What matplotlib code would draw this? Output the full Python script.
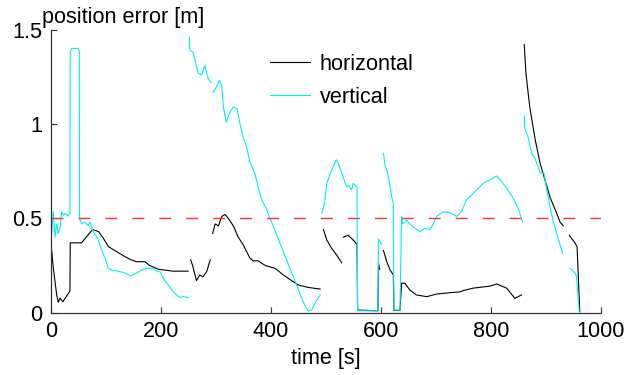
import numpy as np
import matplotlib
matplotlib.use("Agg")
import matplotlib.pyplot as plt

nan = np.nan

# horizontal error, segments split by nan
horiz_t = [0, 1.8, 4.7, 10.9, 13.8, 17, 22, 35, 35.5, 56, 76, 87, 95.7, 105, 120, 135, 144,
           156, 171.5, 180, 195.8, 223, 250, nan,
           254.5, 258, 265, 271, 277, 284, 290, nan,
           294.5, 299, 305, 311, 317, 323, 332, 341, 350, 362, 368, 377, 390, 408, 423, 438,
           450, 468, 490, nan,
           496, 502, 511, 520, 529, nan,
           532, 541, 553, 557, 558, 595, 596, 598, nan,
           605, 611, 617, 623, 624, 635, 638, 644, 653, 665, 684, 702, 726, 744, 750, 768,
           799, 811, 829, 844, 856, nan,
           861, 864, 871, 881, 890, 899, 908, 920, 926, 932, nan,
           943, 953, 957, 962]
horiz_err = [0.32, 0.33, 0.237, 0.094, 0.055, 0.078, 0.058, 0.115, 0.37, 0.37, 0.44, 0.43, 0.394,
             0.35, 0.323, 0.297, 0.283, 0.27, 0.27, 0.25, 0.23, 0.22, 0.22, nan,
             0.28, 0.25, 0.17, 0.20, 0.19, 0.22, 0.28, nan,
             0.42, 0.47, 0.46, 0.51, 0.52, 0.50, 0.46, 0.40, 0.36, 0.29, 0.275, 0.275, 0.25,
             0.235, 0.20, 0.17, 0.147, 0.134, 0.125, nan,
             0.44, 0.385, 0.34, 0.305, 0.265, nan,
             0.40, 0.41, 0.376, 0.36, 0.014, 0.01, 0.26, 0.23, nan,
             0.33, 0.27, 0.226, 0.20, 0.012, 0.012, 0.156, 0.156, 0.12, 0.094, 0.085, 0.099,
             0.106, 0.11, 0.117, 0.13, 0.141, 0.152, 0.13, 0.076, 0.094, nan,
             1.42, 1.27, 1.09, 0.915, 0.79, 0.70, 0.61, 0.527, 0.48, 0.46, nan,
             0.41, 0.37, 0.35, 0.005]

# vertical error
vert_t = [0, 1.8, 4.7, 7.8, 10.9, 13.8, 16.9, 20, 22.9, 26, 32, 35, 35.5, 38, 50, 52, 52.5,
          56, 62, 68, 71.5, 77.5, 86.5, 92.7, 98.7, 104.7, 111, 123, 135, 144, 153, 165.5,
          174.5, 186.5, 193, 199, 205, 214, 223, 229, 235, 241, 250, nan,
          252, 253, 259, 264, 268, 274.5, 280.5, 285, 291, nan,
          294.5, 300.5, 306.5, 311, 314, 319, 325, 332, 339, 344, 350, 356, 362, 371, 377,
          383.5, 391.5, 399, 423, 447, 459, 468, 474.5, 480.5, 490, nan,
          493, 496, 499, 502, 511, 519, 523, 529, 538, 541, 547, 550, 556, 557, 558, 595,
          596, 602, nan,
          605, 608, 611, 614, 617, 620, 623, 624, 635, 638, 640, 647, 653, 662, 671.5, 680.5,
          689.6, 695.6, 701.8, 714, 726, 738, 747, 756, 771, 786.5, 802, 811, 820, 829, 841,
          850, 858, nan,
          861, 862, 868, 874.5, 880, 886.5, 889.6, 897, 901, 905, 909, 914, 920, 926, 931, nan,
          944.5, 953.6, 956, 961]
vert_err = [0.45, 0.42, 0.535, 0.40, 0.47, 0.42, 0.447, 0.535, 0.517, 0.526, 0.512, 0.526, 1.38,
            1.40, 1.40, 1.38, 0.50, 0.47, 0.48, 0.46, 0.48, 0.43, 0.385, 0.33, 0.29, 0.235,
            0.226, 0.22, 0.21, 0.195, 0.205, 0.226, 0.235, 0.235, 0.22, 0.217, 0.18, 0.147,
            0.11, 0.094, 0.081, 0.085, 0.08, nan,
            1.46, 1.39, 1.38, 1.32, 1.27, 1.26, 1.31, 1.25, 1.22, nan,
            1.165, 1.19, 1.23, 1.205, 1.09, 1.01, 1.056, 1.09, 1.08, 1.00, 0.93, 0.88, 0.80,
            0.74, 0.667, 0.60, 0.553, 0.50, 0.323, 0.147, 0.058, 0.009, 0.014, 0.05, 0.094, nan,
            0.527, 0.56, 0.60, 0.685, 0.756, 0.81, 0.79, 0.74, 0.667, 0.676, 0.65, 0.685,
            0.667, 0.66, 0.01, 0.01, 0.39, 0.36, nan,
            0.844, 0.78, 0.756, 0.72, 0.667, 0.614, 0.58, 0.014, 0.014, 0.51, 0.47, 0.49, 0.47,
            0.447, 0.43, 0.447, 0.44, 0.47, 0.51, 0.535, 0.53, 0.51, 0.535, 0.597, 0.64, 0.685,
            0.71, 0.724, 0.694, 0.66, 0.606, 0.553, 0.48, nan,
            1.04, 0.977, 0.93, 0.844, 0.82, 0.773, 0.74, 0.738, 0.667, 0.606, 0.544, 0.48,
            0.42, 0.36, 0.314, nan,
            0.235, 0.21, 0.19, 0.005]

threshold = 0.5
x_ticks = [0, 200, 400, 600, 800, 1000]
y_ticks = [0, 0.5, 1, 1.5]
y_tick_labels = ["0", "0.5", "1", "1.5"]

plt.rcParams['font.family'] = ['Liberation Sans', 'DejaVu Sans']
fs = 15.6

fig = plt.figure(figsize=(6.41, 3.75), dpi=100)
ax = fig.add_axes([50.7 / 641, 62.3 / 375, 550 / 641, 283.2 / 375])

ax.plot(horiz_t, horiz_err, color='black', linewidth=0.8, label='horizontal')
ax.plot(vert_t, vert_err, color='#00f0f0', linewidth=0.8, label='vertical')
ax.plot([0, 1000], [threshold, threshold], color='#ff3030', linewidth=1.0,
        dashes=(8.6, 10.8))

ax.set_xlim(0, 1000)
ax.set_ylim(0, 1.5)
ax.set_xticks(x_ticks)
ax.set_yticks(y_ticks)
ax.set_yticklabels(y_tick_labels)
ax.tick_params(direction='in', length=4, width=0.8, labelsize=fs, colors='0.2',
               labelcolor='black', pad=6)
for side in ['top', 'right']:
    ax.spines[side].set_visible(False)
for side in ['left', 'bottom']:
    ax.spines[side].set_color('0.2')
    ax.spines[side].set_linewidth(0.9)

ax.set_xlabel('time [s]', fontsize=fs, labelpad=4)
fig.text(42 / 641, 1 - 17 / 375, 'position error [m]', fontsize=fs, va='center', ha='left')

ax.legend(loc='upper left', bbox_to_anchor=(270 / 641, 1 - 54 / 375),
          bbox_transform=fig.transFigure, frameon=False, fontsize=fs,
          handlelength=1.85, handletextpad=0.45, labelspacing=0.55,
          borderpad=0, borderaxespad=0)

fig.savefig('out.png', dpi=100)
